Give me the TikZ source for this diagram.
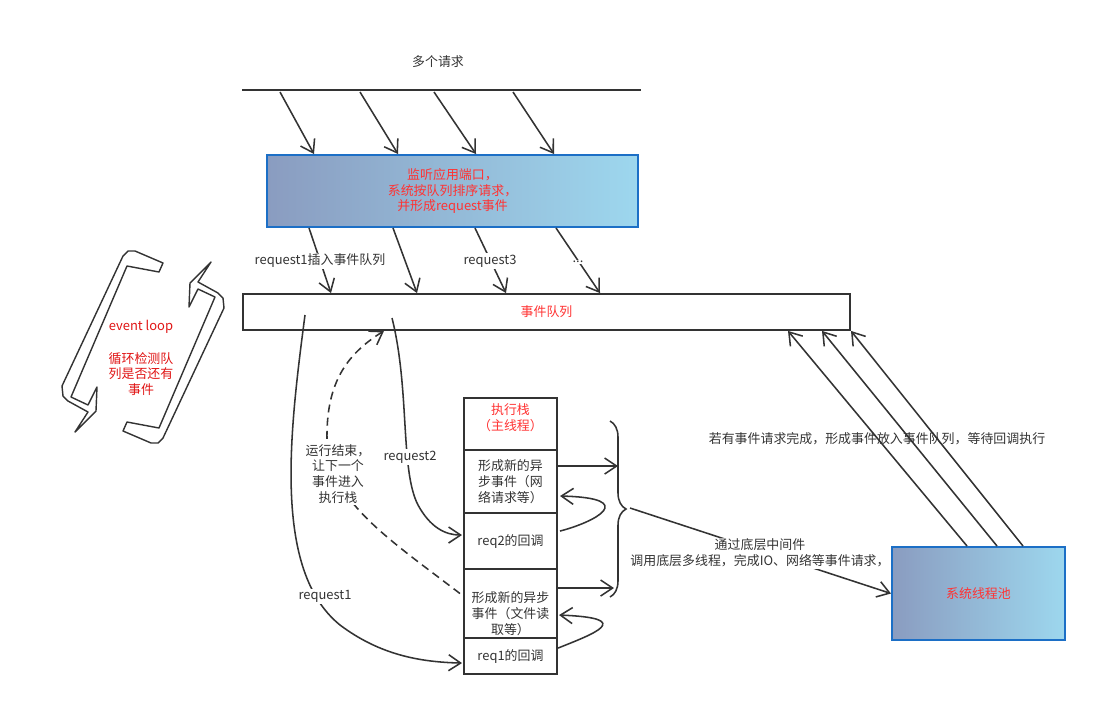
\documentclass[tikz,border=0pt]{standalone}
\usepackage{fontspec}
\setmainfont{Noto Sans CJK SC}
\usepackage{tikz}
\usetikzlibrary{arrows.meta,positioning,calc,decorations.pathreplacing}
\definecolor{evGray}{HTML}{333333}
\definecolor{evRed}{HTML}{FF3333}
\definecolor{loopRed}{HTML}{E01515}
\definecolor{evBlue}{HTML}{1C6FC6}
\definecolor{evLeft}{HTML}{8A9CC0}
\definecolor{evRight}{HTML}{9DD7EE}

\begin{document}
\begin{tikzpicture}[x=0.025cm, y=-0.025cm, color=evGray, line width=1.1pt,
  font=\fontsize{9.2pt}{11.3pt}\selectfont,
  arr/.style={-{Straight Barb[length=0.3cm,width=0.4cm]}},
  grad/.style={draw=evBlue, line width=1.4pt, left color=evLeft, right color=evRight, text=evRed, align=center},
  cell/.style={draw, minimum width=2.325cm, inner sep=0pt, outer sep=0pt, align=center},
  lbl/.style={fill=white, inner sep=1pt, align=center}]
\useasboundingbox (0,0) rectangle (1097,706);
% requests
\node (multi) at (438,62) {多个请求};
\draw (242,90) -- (641,90);
\node[grad, minimum width=9.275cm, minimum height=1.8cm] (listen) at (452.5,191) {监听应用端口，\\系统按队列排序请求，\\并形成request事件};
\foreach \a/\b [count=\i] in {280/314, 360/398, 434/476, 513/554} {
  \coordinate (in\i) at (\a,92);
  \draw[arr] (in\i) -- (\b,0 |- listen.north);
}
% event queue
\node[draw, line width=1.3pt, minimum width=15.175cm, minimum height=0.9cm, text=evRed] (queue) at (546.5,312) {事件队列};
\foreach \a/\b in {309/331, 393/417, 475/506, 556/600}
  \draw[arr] (\a,0 |- listen.south) -- (\b,0 |- queue.north);
\node[lbl] at (320,261) {request1插入事件队列};
\node[lbl] at (490,261) {request3};
\node[lbl] at (578,262) {...};
% event loop
\foreach \r in {0,180}
  \draw[line width=1pt, line join=round, rotate around={\r:(143,347)}]
    (163,263) -- (135,251) -- (128,251) -- (123,256) -- (62,386) -- (63,396) -- (68,401) -- (88,412)
    -- (75,432) -- (96,411) -- (97,387) -- (88,405) -- (71,397) -- (127,266) -- (159,272) -- cycle;
\node[text=loopRed] (el) at (141,327) {event loop};
\node[text=loopRed, align=center] (elnote) at (141,374) {循环检测队\\列是否还有\\事件};
% stack
\node[cell, minimum height=1.3cm] (s1) at (510.5,424) {};
\node[text=evRed, align=center, anchor=north] at (s1.north) {执行栈\\（主线程）};
\node[cell, minimum height=1.575cm, below=0pt of s1] (s2) {形成新的异\\步事件（网\\络请求等）};
\node[cell, minimum height=1.4cm, below=0pt of s2] (s3) {req2的回调};
\node[cell, minimum height=1.725cm, below=0pt of s3] (s4) {};
\node[align=center] at ($(s4.center)+(0,10)$) {形成新的异步\\事件（文件读\\取等）};
\node[cell, minimum height=0.9cm, below=0pt of s4] (s5) {req1的回调};
\draw[arr] ($(s2.east)+(0,-15.5)$) -- ++(61,0);
\draw[arr] ($(s4.east)+(0,-15.5)$) -- ++(57,0);
\draw[arr] ($(s3.east)+(3,-10)$) .. controls +(35,-9) and +(80,2) .. ($(s2.east)+(3,14.5)$);
\draw[arr] ($(s5.east)+(1,-8)$) .. controls +(35,-14) and +(78,3) .. ($(s4.east)+(2,11.5)$);
% requests into the stack
\coordinate (r1) at (305,315);
\coordinate (r2) at (392,318);
\draw[arr] (r1) .. controls (290,430) and (272,570) .. (340,625) .. controls (380,655) and (420,662) .. ($(s5.west)+(-2,7)$);
\draw[arr] (r2) .. controls (410,390) and (400,470) .. (418,505) .. controls (430,527) and (445,535) .. ($(s3.west)+(-2,-6)$);
\draw[arr, dash pattern=on 0.2cm off 0.13cm] ($(s4.west)+(-4,-10)$) .. controls (390,540) and (328,500) .. (327,440) .. controls (326,385) and (345,355) .. (384,0 |- queue.south);
\node[lbl] at (325,596) {request1};
\node[lbl] at (410,457) {request2};
\node[lbl] at (338,474) {运行结束，\\让下一个\\事件进入\\执行栈};
% thread pool
\draw[decorate, decoration={brace, amplitude=0.4cm}] (610,421) -- (610,597);
\coordinate (brtip) at (630,508);
\node[grad, minimum width=4.325cm, minimum height=2.325cm] (pool) at (978.5,593.5) {};
\draw[arr] (brtip) -- (pool.west);
\node[lbl] at (760,553) {通过底层中间件\\调用底层多线程，完成IO、网络等事件请求，};
\node[grad, minimum width=4.325cm, minimum height=2.325cm] at (pool) {系统线程池};
\foreach \a/\b in {967/788, 997/822, 1023/851}
  \draw[arr] (\a,0 |- pool.north) -- (\b,0 |- queue.south);
\node at (877,439) {若有事件请求完成，形成事件放入事件队列，等待回调执行};
\end{tikzpicture}
\end{document}
